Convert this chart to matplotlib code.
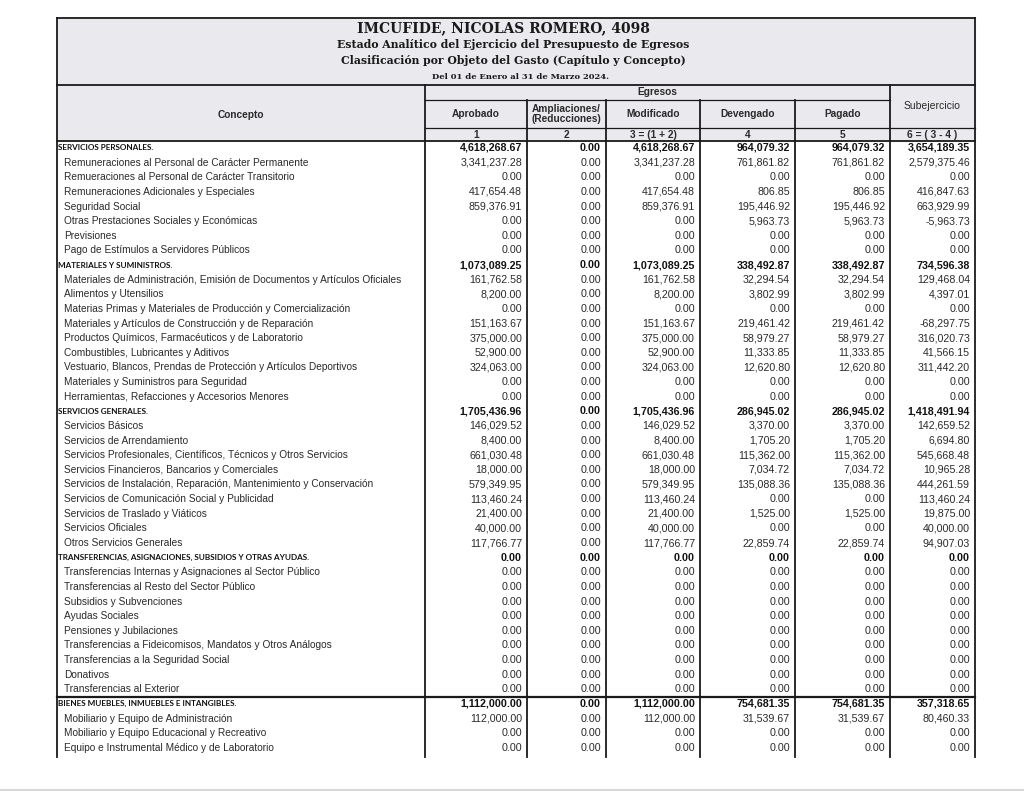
import matplotlib
matplotlib.use("Agg")
import matplotlib.pyplot as plt

# ---------------- data ----------------
concepts = [
    "SERVICIOS PERSONALES.",
    "Remuneraciones al Personal de Carácter Permanente",
    "Remueraciones al Personal de Carácter Transitorio",
    "Remuneraciones Adicionales y Especiales",
    "Seguridad Social",
    "Otras Prestaciones Sociales y Económicas",
    "Previsiones",
    "Pago de Estímulos a Servidores Públicos",
    "MATERIALES Y SUMINISTROS.",
    "Materiales de Administración, Emisión de Documentos y Artículos Oficiales",
    "Alimentos y Utensilios",
    "Materias Primas y Materiales de Producción y Comercialización",
    "Materiales y Artículos de Construcción y de Reparación",
    "Productos Químicos, Farmacéuticos y de Laboratorio",
    "Combustibles, Lubricantes y Aditivos",
    "Vestuario, Blancos, Prendas de Protección y Artículos Deportivos",
    "Materiales y Suministros para Seguridad",
    "Herramientas, Refacciones y Accesorios Menores",
    "SERVICIOS GENERALES.",
    "Servicios Básicos",
    "Servicios de Arrendamiento",
    "Servicios Profesionales, Científicos, Técnicos y Otros Servicios",
    "Servicios Financieros, Bancarios y Comerciales",
    "Servicios de Instalación, Reparación, Mantenimiento y Conservación",
    "Servicios de Comunicación Social y Publicidad",
    "Servicios de Traslado y Viáticos",
    "Servicios Oficiales",
    "Otros Servicios Generales",
    "TRANSFERENCIAS, ASIGNACIONES, SUBSIDIOS Y OTRAS AYUDAS.",
    "Transferencias Internas y Asignaciones al Sector Público",
    "Transferencias al Resto del Sector Público",
    "Subsidios y Subvenciones",
    "Ayudas Sociales",
    "Pensiones y Jubilaciones",
    "Transferencias a Fideicomisos, Mandatos y Otros Análogos",
    "Transferencias a la Seguridad Social",
    "Donativos",
    "Transferencias al Exterior",
    "BIENES MUEBLES, INMUEBLES E INTANGIBLES.",
    "Mobiliario y Equipo de Administración",
    "Mobiliario y Equipo Educacional y Recreativo",
    "Equipo e Instrumental Médico y de Laboratorio",
]
is_chapter = [1, 0, 0, 0, 0, 0, 0, 0,
              1, 0, 0, 0, 0, 0, 0, 0, 0, 0,
              1, 0, 0, 0, 0, 0, 0, 0, 0, 0,
              1, 0, 0, 0, 0, 0, 0, 0, 0, 0,
              1, 0, 0, 0]

aprobado = [4618268.67, 3341237.28, 0.00, 417654.48, 859376.91, 0.00, 0.00, 0.00,
            1073089.25, 161762.58, 8200.00, 0.00, 151163.67, 375000.00, 52900.00, 324063.00, 0.00, 0.00,
            1705436.96, 146029.52, 8400.00, 661030.48, 18000.00, 579349.95, 113460.24, 21400.00, 40000.00, 117766.77,
            0.00, 0.00, 0.00, 0.00, 0.00, 0.00, 0.00, 0.00, 0.00, 0.00,
            1112000.00, 112000.00, 0.00, 0.00]
ampliaciones = [0.00] * 42
modificado = [4618268.67, 3341237.28, 0.00, 417654.48, 859376.91, 0.00, 0.00, 0.00,
              1073089.25, 161762.58, 8200.00, 0.00, 151163.67, 375000.00, 52900.00, 324063.00, 0.00, 0.00,
              1705436.96, 146029.52, 8400.00, 661030.48, 18000.00, 579349.95, 113460.24, 21400.00, 40000.00, 117766.77,
              0.00, 0.00, 0.00, 0.00, 0.00, 0.00, 0.00, 0.00, 0.00, 0.00,
              1112000.00, 112000.00, 0.00, 0.00]
devengado = [964079.32, 761861.82, 0.00, 806.85, 195446.92, 5963.73, 0.00, 0.00,
             338492.87, 32294.54, 3802.99, 0.00, 219461.42, 58979.27, 11333.85, 12620.80, 0.00, 0.00,
             286945.02, 3370.00, 1705.20, 115362.00, 7034.72, 135088.36, 0.00, 1525.00, 0.00, 22859.74,
             0.00, 0.00, 0.00, 0.00, 0.00, 0.00, 0.00, 0.00, 0.00, 0.00,
             754681.35, 31539.67, 0.00, 0.00]
pagado = [964079.32, 761861.82, 0.00, 806.85, 195446.92, 5963.73, 0.00, 0.00,
          338492.87, 32294.54, 3802.99, 0.00, 219461.42, 58979.27, 11333.85, 12620.80, 0.00, 0.00,
          286945.02, 3370.00, 1705.20, 115362.00, 7034.72, 135088.36, 0.00, 1525.00, 0.00, 22859.74,
          0.00, 0.00, 0.00, 0.00, 0.00, 0.00, 0.00, 0.00, 0.00, 0.00,
          754681.35, 31539.67, 0.00, 0.00]
subejercicio = [3654189.35, 2579375.46, 0.00, 416847.63, 663929.99, -5963.73, 0.00, 0.00,
                734596.38, 129468.04, 4397.01, 0.00, -68297.75, 316020.73, 41566.15, 311442.20, 0.00, 0.00,
                1418491.94, 142659.52, 6694.80, 545668.48, 10965.28, 444261.59, 113460.24, 19875.00, 40000.00, 94907.03,
                0.00, 0.00, 0.00, 0.00, 0.00, 0.00, 0.00, 0.00, 0.00, 0.00,
                357318.65, 80460.33, 0.00, 0.00]

title_lines = ["IMCUFIDE, NICOLAS ROMERO, 4098",
               "Estado Analítico del Ejercicio del Presupuesto de Egresos",
               "Clasificación por Objeto del Gasto (Capítulo y Concepto)"]
period = "Del 01 de Enero al 31 de Marzo 2024."
col_headers = ["Aprobado", "Ampliaciones/\n(Reducciones)", "Modificado", "Devengado", "Pagado"]
col_numbers = ["1", "2", "3 = (1 + 2)", "4", "5", "6 = ( 3 - 4 )"]

# ---------------- layout ----------------
fig = plt.figure(figsize=(10.24, 7.93), dpi=100)
ax = fig.add_axes([0, 0, 1, 1])
ax.set_xlim(0, 1024)
ax.set_ylim(793, 0)
ax.axis("off")

xl, xr = 57, 975
cols = [425, 527, 606, 700, 795, 890, 975]
y_top, y_title, y_eg, y_hdr, y_num = 18, 85, 100, 128, 141
y_first, pitch = 148, 14.63
y_bottom = 757
lc = "#1a1a1a"
txt = "#2a2a2a"

ax.fill_between([xl, xr], y_top, y_num, color="#e9e9ee", zorder=0)

serif = dict(family="DejaVu Serif", weight="bold", color="#1a1a1a")
ax.text(503, 28, title_lines[0], ha="center", va="center", fontsize=10, **serif)
ax.text(513, 45, title_lines[1], ha="center", va="center", fontsize=7.8, **serif)
ax.text(513, 60, title_lines[2], ha="center", va="center", fontsize=7.8, **serif)
ax.text(521, 77, period, ha="center", va="center", fontsize=6, **serif)

hfont = dict(family="Liberation Sans", color=txt)
ax.text((xl + cols[0]) / 2, 115, "Concepto", ha="center", va="center", fontsize=7.3, weight="bold", **hfont)
ax.text((cols[0] + cols[5]) / 2, 92, "Egresos", ha="center", va="center", fontsize=7.3, weight="bold", **hfont)
for i, h in enumerate(col_headers):
    ax.text((cols[i] + cols[i + 1]) / 2, 114, h, ha="center", va="center", fontsize=7.3,
            weight="bold", linespacing=1.0, **hfont)
ax.text((cols[5] + cols[6]) / 2, 106, "Subejercicio", ha="center", va="center", fontsize=7.5, **hfont)
for i, h in enumerate(col_numbers):
    ax.text((cols[i] + cols[i + 1]) / 2, 134.5, h, ha="center", va="center", fontsize=7.3,
            weight="bold", **hfont)

# grid lines
lw = 1.3
ax.plot([xl, xr], [y_top, y_top], color=lc, lw=lw)
ax.plot([xl, xr], [y_title, y_title], color=lc, lw=lw)
ax.plot([cols[0], cols[5]], [y_eg, y_eg], color=lc, lw=0.9)
ax.plot([cols[0], xr], [y_hdr, y_hdr], color=lc, lw=0.9)
ax.plot([xl, xr], [y_num, y_num], color=lc, lw=lw)
ax.plot([xl, xl], [y_top, y_bottom], color=lc, lw=lw)
ax.plot([xr, xr], [y_top, y_bottom], color=lc, lw=lw)
ax.plot([cols[0], cols[0]], [y_title, y_bottom], color=lc, lw=lw)
for c in cols[1:5]:
    ax.plot([c, c], [y_eg, y_bottom], color=lc, lw=lw)
ax.plot([cols[5], cols[5]], [y_title, y_bottom], color=lc, lw=lw)

# separator above last chapter
y_sep = y_first + 37.55 * pitch
ax.plot([xl, xr], [y_sep, y_sep], color=lc, lw=1.6)

# scan edge artefact line
ax.plot([0, 1024], [790, 790], color="#d8d8d8", lw=1.5)

series = [aprobado, ampliaciones, modificado, devengado, pagado, subejercicio]
for r, name in enumerate(concepts):
    y = y_first + r * pitch
    if is_chapter[r]:
        ax.text(xl + 1, y, name, ha="left", va="center", fontsize=5.9, weight="bold",
                family="Lato", color="#111111")
    else:
        ax.text(xl + 7, y, name, ha="left", va="center", fontsize=7.3, family="Liberation Sans",
                color=txt)
    for k, s in enumerate(series):
        ax.text(cols[k + 1] - 5, y, f"{s[r]:,.2f}", ha="right", va="center", fontsize=7.7,
                family="Liberation Sans", color="#111111" if is_chapter[r] else txt,
                weight="bold" if is_chapter[r] else "normal")

fig.savefig("out.png", dpi=100, facecolor="white")
